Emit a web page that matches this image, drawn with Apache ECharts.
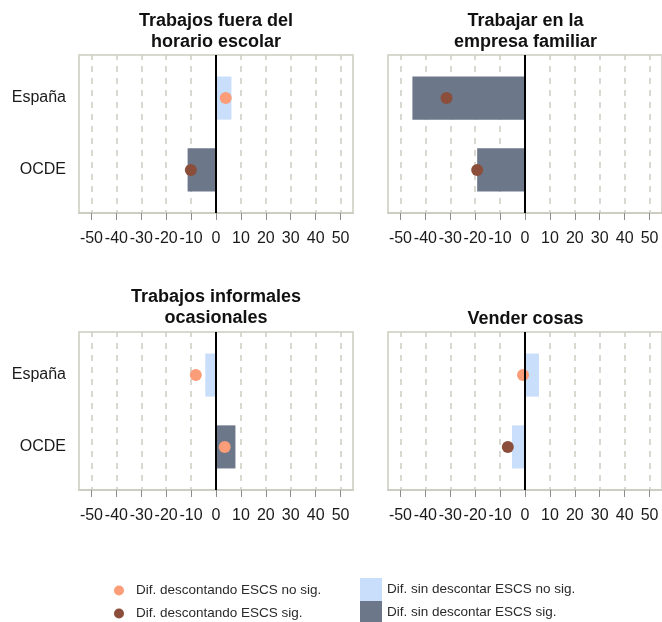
<!DOCTYPE html>
<html>
<head>
<meta charset="utf-8">
<script src="https://cdn.jsdelivr.net/npm/echarts@6/dist/echarts.min.js"></script>
<style>
  html, body { margin: 0; padding: 0; background: #fff; }
  #chart { width: 662px; height: 622px; }
</style>
</head>
<body>
<div id="chart"></div>
<script>
// Rows shown in every panel (top to bottom)
const categories = ['España', 'OCDE'];

// One panel per type of work
const panelTitles = [
  'Trabajos fuera del\nhorario escolar',
  'Trabajar en la\nempresa familiar',
  'Trabajos informales\nocasionales',
  'Vender cosas'
];

// Tick labels of the horizontal axis
const tickValues = [-50, -40, -30, -20, -10, 0, 10, 20, 30, 40, 50];

// Difference without accounting for ESCS (bars), per panel: [España, OCDE]
const barValues = [
  [6.2, -11.4],
  [-45.2, -19.2],
  [-4.3, 7.8],
  [5.6, -5.2]
];
const barSignificant = [
  [false, true],
  [true, true],
  [false, true],
  [false, false]
];

// Difference accounting for ESCS (dots), per panel: [España, OCDE]
const dotValues = [
  [3.9, -10.1],
  [-31.5, -19.2],
  [-8.1, 3.5],
  [-0.8, -6.9]
];
const dotSignificant = [
  [false, true],
  [true, true],
  [false, false],
  [false, true]
];

const NAME_DOT_NS = 'Dif. descontando ESCS no sig.';
const NAME_DOT_S = 'Dif. descontando ESCS sig.';
const NAME_BAR_NS = 'Dif. sin descontar ESCS no sig.';
const NAME_BAR_S = 'Dif. sin descontar ESCS sig.';

const COLOR_DOT_NS = '#fb9d78';
const COLOR_DOT_S = '#8a4e3a';
const COLOR_BAR_NS = '#c8defb';
const COLOR_BAR_S = '#6c7789';

const FONT = 'Liberation Sans, Arial, Helvetica, sans-serif';
const BAR_THICKNESS = 0.6; // in row units

// Layout of the 2x2 panels
const panels = [
  { left: 79, top: 55, width: 274, titleX: 216, titleTop: 11, labels: true },
  { left: 388, top: 55, width: 276, titleX: 525.5, titleTop: 11, labels: false },
  { left: 79, top: 332, width: 274, titleX: 216, titleTop: 287, labels: true },
  { left: 388, top: 332, width: 276, titleX: 525.5, titleTop: 309, labels: false }
];

// España on the upper row, OCDE below
function rowPos(i) { return categories.length - 1 - i; }

function renderBar(params, api) {
  const v = api.value(0);
  const y = api.value(1);
  const p0 = api.coord([0, y]);
  const p1 = api.coord([v, y]);
  const h = api.size([0, BAR_THICKNESS])[1];
  return {
    type: 'rect',
    shape: {
      x: Math.min(p0[0], p1[0]),
      y: p0[1] - h / 2,
      width: Math.abs(p1[0] - p0[0]),
      height: h
    },
    style: api.style()
  };
}

const grids = [], xAxes = [], yAxes = [], titles = [], series = [];

panels.forEach((p, k) => {
  grids.push({
    left: p.left, top: p.top, width: p.width, height: 158,
    show: true, borderColor: '#d8d8cf', borderWidth: 2, backgroundColor: 'transparent'
  });
  xAxes.push({
    type: 'value', gridIndex: k, min: -55, max: 55,
    axisLine: { show: true, onZero: false, lineStyle: { color: '#cdcdc4', width: 2 } },
    axisTick: { show: true, customValues: tickValues, length: 7, lineStyle: { color: '#8c8c8c', width: 1 } },
    axisLabel: {
      customValues: tickValues, margin: 18, fontSize: 16, color: '#1a1a1a', fontFamily: FONT
    },
    splitLine: { show: true, lineStyle: { color: '#cdcdc3', width: 1.5, type: [6, 6], dashOffset: 1 } }
  });
  yAxes.push({
    type: 'value', gridIndex: k, min: -0.6, max: 1.6,
    axisLine: { show: false, onZero: false },
    axisTick: { show: false },
    splitLine: { show: false },
    axisLabel: {
      show: p.labels, customValues: [0, 1], margin: 13,
      fontSize: 16, color: '#1a1a1a', fontFamily: FONT,
      formatter: v => categories[categories.length - 1 - Math.round(v)]
    }
  });
  titles.push({
    text: panelTitles[k], left: p.titleX, top: p.titleTop, padding: 0,
    textAlign: 'center', textVerticalAlign: 'top',
    textStyle: { fontSize: 18, fontWeight: 'bold', color: '#111', fontFamily: FONT, lineHeight: 21 }
  });

  const barsNs = [], barsS = [], dotsNs = [], dotsS = [];
  categories.forEach((c, i) => {
    (barSignificant[k][i] ? barsS : barsNs).push([barValues[k][i], rowPos(i)]);
    (dotSignificant[k][i] ? dotsS : dotsNs).push([dotValues[k][i], rowPos(i)]);
  });

  series.push({
    name: NAME_BAR_NS, type: 'custom', xAxisIndex: k, yAxisIndex: k,
    renderItem: renderBar, encode: { x: 0, y: 1 }, data: barsNs,
    itemStyle: { color: COLOR_BAR_NS }, z: 2, silent: true
  });
  series.push({
    name: NAME_BAR_S, type: 'custom', xAxisIndex: k, yAxisIndex: k,
    renderItem: renderBar, encode: { x: 0, y: 1 }, data: barsS,
    itemStyle: { color: COLOR_BAR_S }, z: 2, silent: true,
    // zero reference line
    markLine: {
      silent: true, symbol: 'none', label: { show: false },
      lineStyle: { color: '#000', width: 2, type: 'solid' },
      emphasis: { disabled: true },
      data: [{ xAxis: 0 }]
    }
  });
  series.push({
    name: NAME_DOT_NS, type: 'scatter', xAxisIndex: k, yAxisIndex: k,
    symbol: 'circle', symbolSize: 12, data: dotsNs,
    itemStyle: { color: COLOR_DOT_NS, opacity: 1 }, z: 4, silent: true
  });
  series.push({
    name: NAME_DOT_S, type: 'scatter', xAxisIndex: k, yAxisIndex: k,
    symbol: 'circle', symbolSize: 12, data: dotsS,
    itemStyle: { color: COLOR_DOT_S, opacity: 1 }, z: 4, silent: true
  });
});

const legendText = { fontSize: 13.5, color: '#2a2a2a', fontFamily: FONT, lineHeight: 23 };

// One legend block per entry: two columns, dots on the left, bars on the right
function legendEntry(name, icon, left, top, w, h) {
  return {
    left: left, top: top, padding: 0, itemGap: 0,
    itemWidth: w, itemHeight: h, selectedMode: false,
    textStyle: legendText,
    data: [{ name: name, icon: icon }]
  };
}

const option = {
  animation: false,
  backgroundColor: '#ffffff',
  title: titles,
  grid: grids,
  xAxis: xAxes,
  yAxis: yAxes,
  legend: [
    legendEntry(NAME_DOT_NS, 'circle', 114, 579, 24, 10),
    legendEntry(NAME_DOT_S, 'circle', 114, 602, 24, 10),
    legendEntry(NAME_BAR_NS, 'rect', 360, 578, 22, 23),
    legendEntry(NAME_BAR_S, 'rect', 360, 601, 22, 23)
  ],
  series: series
};

const chart = echarts.init(document.getElementById('chart'), null, { renderer: 'canvas' });
chart.setOption(option);
</script>
</body>
</html>
